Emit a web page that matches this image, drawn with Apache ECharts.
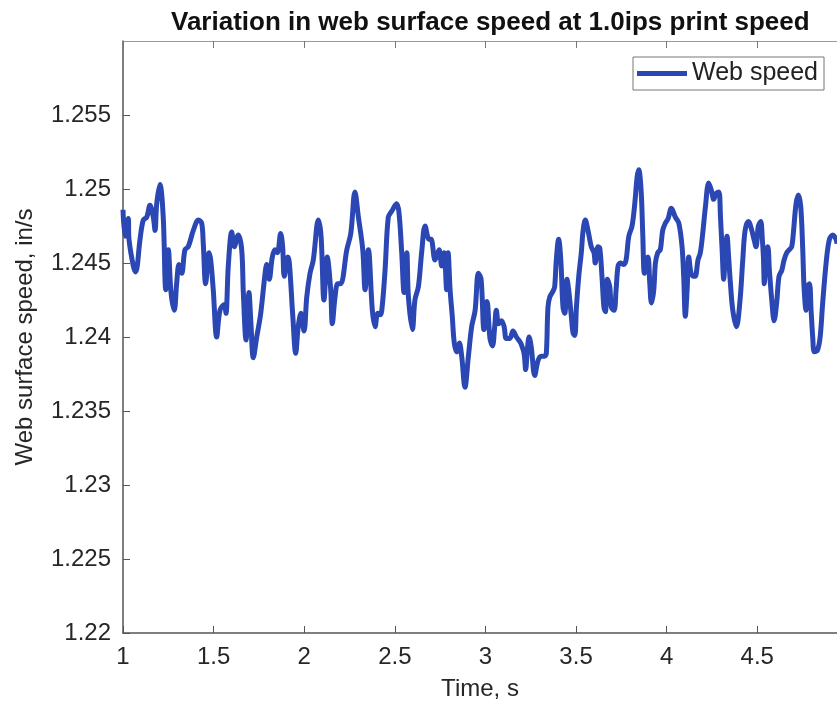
<!DOCTYPE html>
<html>
<head>
<meta charset="utf-8">
<title>Web surface speed</title>
<script src="https://cdn.jsdelivr.net/npm/echarts@6/dist/echarts.min.js"></script>
<style>
  html, body { margin: 0; padding: 0; background: #fff; }
  #chart { width: 837px; height: 711px; }
</style>
</head>
<body>
<div id="chart"></div>
<script>
// time, s
const times = [
  1.000,1.011,1.029,1.033,1.057,1.070,1.094,1.112,1.131,1.149,
  1.167,1.177,1.186,1.204,1.222,1.236,1.250,1.265,1.283,1.296,
  1.309,1.324,1.342,1.360,1.388,1.416,1.434,1.443,1.456,1.475,
  1.484,1.498,1.517,1.535,1.559,1.568,1.581,1.600,1.614,1.636,
  1.655,
  1.664,1.679,1.695,1.706,1.719,1.738,1.760,1.784,1.793,1.807,
  1.824,1.839,1.852,1.870,1.881,1.890,1.909,1.918,1.937,1.953,
  1.967,1.982,1.999,2.014,2.032,2.050,2.078,2.093,2.109,2.127,
  2.146,2.155,2.170,2.185,2.201,2.235,2.257,2.280,2.299,2.323,
  2.336,2.354,2.376,2.391,2.406,2.418,2.428,2.446,2.464,2.483,
  2.510,2.523,2.538,2.551,2.566,2.575,2.597,2.611,2.630,2.648,
  2.667,2.689,2.700,2.722,2.744,2.759,2.772,2.786,2.794,2.805,
  2.817,2.828,2.842,2.856,2.869,2.887,2.906,2.924,2.943,2.961,
  2.976,2.992,
  3.009,3.025,3.039,3.051,3.060,3.073,3.088,3.103,3.115,3.134,
  3.152,3.171,3.189,3.198,3.213,3.222,3.231,3.241,3.253,3.272,
  3.290,3.308,3.327,3.336,3.345,3.355,3.373,3.382,3.391,3.404,
  3.416,3.428,3.438,3.450,3.461,3.474,3.483,3.493,3.502,3.515,
  3.529,3.539,3.551,3.566,3.584,3.599,3.606,3.621,3.631,3.643,
  3.654,3.662,3.673,3.686,3.695,3.710,3.721,3.732,3.745,3.763,
  3.776,3.791,3.809,3.824,3.837,3.846,3.859,3.868,3.877,3.888,
  3.897,3.907,3.916,3.929,3.938,3.951,3.965,3.978,3.993,
  4.008,4.026,4.048,4.067,4.085,4.094,4.103,4.113,4.122,4.135,
  4.150,4.158,4.173,4.186,4.199,4.214,4.232,4.247,4.260,4.273,
  4.288,4.297,4.306,4.315,4.322,4.333,4.343,4.352,4.365,4.385,
  4.405,4.420,4.433,4.451,4.470,4.482,4.493,4.506,4.519,4.528,
  4.534,4.539,4.549,4.558,4.567,4.580,4.593,4.607,4.620,4.635,
  4.648,4.663,4.677,4.690,4.699,4.714,4.727,4.740,4.751,4.758,
  4.769,4.777,4.788,4.797,4.806,4.815,4.832,4.847,4.861,4.880,
  4.898,4.917,4.935,4.940
];

// web surface speed, in/s
const webSpeed = [
  1.2486,1.2468,1.2480,1.2466,1.2448,1.2444,1.2466,1.2479,1.2481,1.2489,
  1.2481,1.2472,1.2490,1.2503,1.2481,1.2432,1.2459,1.2430,1.2418,1.2436,
  1.2449,1.2443,1.2459,1.2461,1.2472,1.2479,1.2477,1.2463,1.2436,1.2457,
  1.2452,1.2432,1.2400,1.2418,1.2422,1.2416,1.2448,1.2471,1.2461,1.2469,
  1.2459,
  1.2430,1.2398,1.2430,1.2409,1.2386,1.2400,1.2416,1.2443,1.2449,1.2439,
  1.2454,1.2459,1.2457,1.2470,1.2461,1.2441,1.2454,1.2450,1.2414,1.2389,
  1.2407,1.2416,1.2404,1.2427,1.2443,1.2452,1.2479,1.2468,1.2425,1.2454,
  1.2432,1.2409,1.2427,1.2436,1.2436,1.2459,1.2470,1.2498,1.2481,1.2459,
  1.2432,1.2459,1.2418,1.2407,1.2416,1.2415,1.2418,1.2445,1.2481,1.2485,
  1.2490,1.2484,1.2457,1.2430,1.2457,1.2427,1.2405,1.2425,1.2434,1.2457,
  1.2475,1.2466,1.2466,1.2452,1.2459,1.2448,1.2457,1.2432,1.2457,1.2432,
  1.2414,1.2396,1.2390,1.2396,1.2387,1.2366,1.2387,1.2407,1.2418,1.2443,
  1.2439,1.2405,
  1.2424,1.2399,1.2394,1.2407,1.2418,1.2409,1.2411,1.2407,1.2399,1.2399,
  1.2404,1.2400,1.2397,1.2395,1.2389,1.2378,1.2391,1.2400,1.2393,1.2374,
  1.2384,1.2387,1.2387,1.2389,1.2420,1.2427,1.2431,1.2434,1.2452,1.2466,
  1.2452,1.2420,1.2416,1.2439,1.2430,1.2414,1.2403,1.2401,1.2420,1.2441,
  1.2457,1.2472,1.2479,1.2472,1.2461,1.2457,1.2450,1.2461,1.2460,1.2441,
  1.2420,1.2417,1.2439,1.2434,1.2420,1.2418,1.2432,1.2448,1.2450,1.2449,
  1.2452,1.2468,1.2475,1.2490,1.2508,1.2513,1.2499,1.2470,1.2443,1.2452,
  1.2454,1.2436,1.2423,1.2432,1.2450,1.2457,1.2459,1.2472,1.2477,
  1.2480,1.2487,1.2481,1.2477,1.2461,1.2441,1.2414,1.2432,1.2454,1.2443,
  1.2441,1.2441,1.2452,1.2457,1.2470,1.2488,1.2504,1.2499,1.2493,1.2497,
  1.2498,1.2481,1.2459,1.2439,1.2452,1.2468,1.2452,1.2436,1.2418,1.2407,
  1.2425,1.2452,1.2472,1.2478,1.2472,1.2466,1.2461,1.2475,1.2478,1.2466,
  1.2454,1.2436,1.2459,1.2461,1.2445,1.2425,1.2411,1.2423,1.2441,1.2445,
  1.2452,1.2457,1.2459,1.2461,1.2470,1.2490,1.2496,1.2488,1.2459,1.2434,
  1.2418,1.2434,1.2436,1.2418,1.2400,1.2390,1.2391,1.2400,1.2423,1.2450,
  1.2466,1.2469,1.2466,1.2463
];

const xRange = [1, 4.94];
const yRange = [1.22, 1.26];

const font = "'Liberation Sans', Arial, Helvetica, sans-serif";
const lineColor = '#2b47b3';

const chart = echarts.init(document.getElementById('chart'), null, { renderer: 'canvas' });

const option = {
  backgroundColor: '#fff',
  animation: false,
  title: {
    text: 'Variation in web surface speed at 1.0ips print speed',
    left: 166,
    top: 5,
    textStyle: { fontFamily: font, fontSize: 26, fontWeight: 'bold', color: '#111' }
  },
  legend: {
    data: ['Web speed'],
    left: 633,
    top: 57,
    padding: [4, 6, 4, 4],
    icon: 'rect',
    itemWidth: 50,
    itemHeight: 5,
    borderColor: '#777',
    borderWidth: 1,
    backgroundColor: '#fff',
    textStyle: { fontFamily: font, fontSize: 25, color: '#222' }
  },
  grid: { left: 123, right: 0, top: 41, bottom: 78, containLabel: false },
  xAxis: [
    {
      type: 'value',
      min: xRange[0],
      max: xRange[1],
      interval: 0.5,
      name: 'Time, s',
      nameLocation: 'middle',
      nameGap: 44,
      nameTextStyle: { fontFamily: font, fontSize: 24, color: '#262626' },
      axisLine: { lineStyle: { color: '#555', width: 1.5 } },
      axisTick: { inside: true, length: 7, lineStyle: { color: '#555' } },
      axisLabel: { fontFamily: font, fontSize: 24, color: '#262626', margin: 12, showMaxLabel: false },
      splitLine: { show: false }
    },
    {
      type: 'value',
      position: 'top',
      min: xRange[0],
      max: xRange[1],
      interval: 0.5,
      axisLine: { show: true, lineStyle: { color: '#999', width: 1 } },
      axisTick: { inside: true, length: 7, lineStyle: { color: '#777' } },
      axisLabel: { show: false },
      splitLine: { show: false }
    }
  ],
  yAxis: {
    type: 'value',
    min: yRange[0],
    max: yRange[1],
    interval: 0.005,
    name: 'Web surface speed, in/s',
    nameLocation: 'middle',
    nameGap: 86,
    nameTextStyle: { fontFamily: font, fontSize: 24, color: '#262626' },
    axisLine: { show: true, lineStyle: { color: '#555', width: 1.5 } },
    axisTick: { show: true, inside: true, length: 7, lineStyle: { color: '#555' } },
    axisLabel: { fontFamily: font, fontSize: 24, color: '#262626', margin: 12, showMaxLabel: false },
    splitLine: { show: false }
  },
  series: [
    {
      name: 'Web speed',
      type: 'line',
      xAxisIndex: 0,
      data: times.map((t, i) => [t, webSpeed[i]]),
      showSymbol: false,
      symbol: 'none',
      smooth: 0.35,
      itemStyle: { color: lineColor },
      lineStyle: { color: lineColor, width: 5 }
    }
  ]
};

chart.setOption(option);
</script>
</body>
</html>
